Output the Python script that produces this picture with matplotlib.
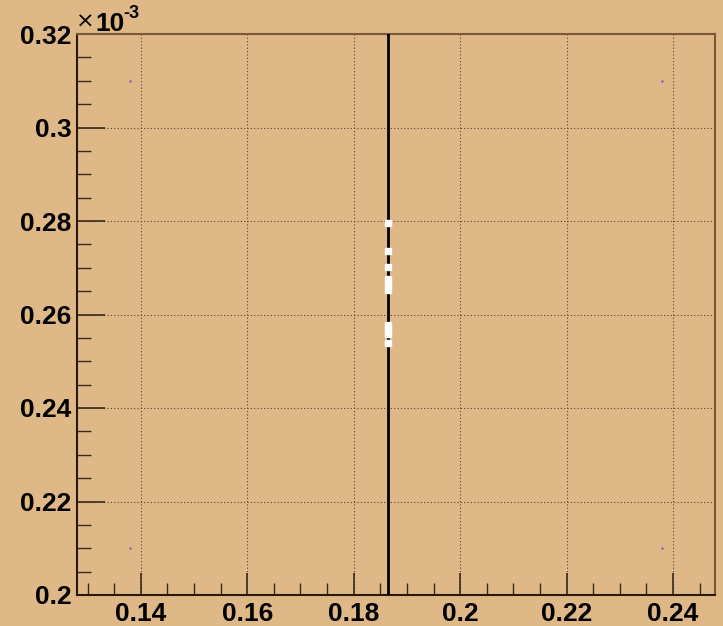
import matplotlib
matplotlib.use("Agg")
import matplotlib.pyplot as plt
from matplotlib.ticker import MultipleLocator, FuncFormatter

# data
line_x = 0.1864
marker_x = [0.1864] * 10
marker_y = [0.0002796, 0.0002736, 0.0002702, 0.0002676, 0.0002665,
            0.0002652, 0.0002578, 0.0002567, 0.0002558, 0.0002539]
dot_x = [0.138, 0.238, 0.138, 0.238]
dot_y = [0.000310, 0.000310, 0.000210, 0.000210]
xlim = (0.128, 0.2479)
ylim = (0.000200, 0.000320)

bg = "#DEB887"
plt.rcParams['font.family'] = ['Liberation Sans', 'DejaVu Sans']

fig = plt.figure(figsize=(7.23, 6.26), dpi=100, facecolor=bg)
ax = fig.add_axes([77/723, 31/626, 638/723, 561/626], facecolor=bg)
ax.set_xlim(*xlim)
ax.set_ylim(*ylim)

ax.xaxis.set_major_locator(MultipleLocator(0.02))
ax.xaxis.set_minor_locator(MultipleLocator(0.005))
ax.yaxis.set_major_locator(MultipleLocator(0.00002))
ax.yaxis.set_minor_locator(MultipleLocator(0.000005))
ax.xaxis.set_major_formatter(FuncFormatter(lambda v, p: "%g" % round(v, 4)))
ax.yaxis.set_major_formatter(FuncFormatter(lambda v, p: "%g" % round(v * 1e3, 4)))

ax.grid(True, which='major', color='#5a4630', linestyle=(0, (1, 2)), linewidth=0.8)
ax.tick_params(which='both', direction='in', top=False, right=False, color='#3a2a1a',
               labelsize=19)
ax.tick_params(axis='x', which='major', length=16, width=1.2, pad=5)
ax.tick_params(axis='x', which='minor', length=9, width=1.0)
ax.tick_params(axis='y', which='major', length=20, width=1.2, pad=4)
ax.tick_params(axis='y', which='minor', length=10, width=1.0)
for lab in ax.get_xticklabels() + ax.get_yticklabels():
    lab.set_fontweight('bold')

for s in ['top', 'right']:
    ax.spines[s].set_color('#7a5a35')
    ax.spines[s].set_linewidth(1.5)
for s in ['left', 'bottom']:
    ax.spines[s].set_color('#2a1a0a')
    ax.spines[s].set_linewidth(1.5)

ax.axvline(line_x, color='black', linewidth=2, zorder=3)
ax.plot(marker_x, marker_y, linestyle='none', marker='s', markersize=4.5,
        markerfacecolor='white', markeredgecolor='white', zorder=4)
ax.plot(dot_x, dot_y, linestyle='none', marker='.', markersize=1.5,
        color='#7a60c0', zorder=4)

fig.text(85/723, 1 - 22/626, "\u00d7", fontsize=16, family=['DejaVu Sans'],
         ha='center', va='center')
fig.text(95/723, 1 - 31/626, "10", fontsize=19,
         fontweight='bold', ha='left', va='baseline')
fig.text(123/723, 1 - 18/626, "-3", fontsize=13,
         fontweight='bold', ha='left', va='baseline')

fig.savefig("out.png", dpi=100, facecolor=bg)
